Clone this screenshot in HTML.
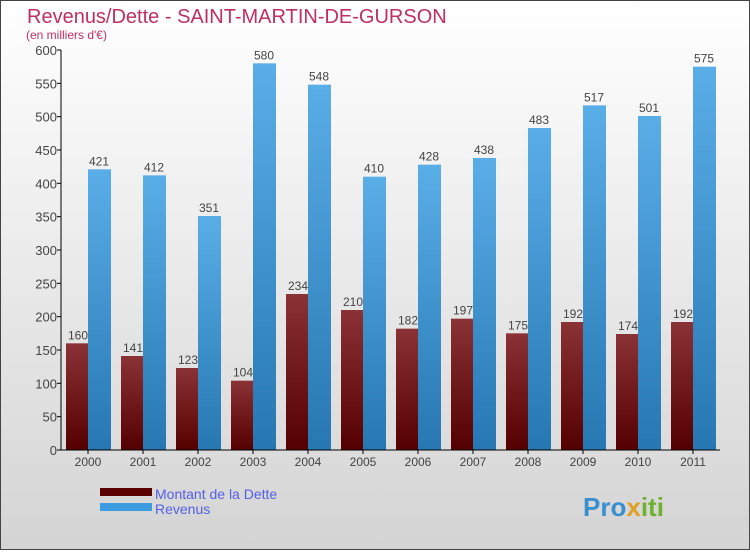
<!DOCTYPE html>
<html><head><meta charset="utf-8"><style>
body{margin:0;width:750px;height:550px;overflow:hidden;font-family:"Liberation Sans",sans-serif}
</style></head><body>
<svg width="750" height="550" xmlns="http://www.w3.org/2000/svg">
<defs>
<linearGradient id="bg" x1="0" y1="0" x2="0" y2="1"><stop offset="0" stop-color="#ffffff"/><stop offset="1" stop-color="#d4d4d4"/></linearGradient>
<linearGradient id="gd" x1="0" y1="0" x2="0" y2="1"><stop offset="0" stop-color="#8a3236"/><stop offset="1" stop-color="#550000"/></linearGradient>
<linearGradient id="gr" x1="0" y1="0" x2="0" y2="1"><stop offset="0" stop-color="#5aaee8"/><stop offset="1" stop-color="#2677b2"/></linearGradient>
</defs>
<rect x="0.5" y="0.5" width="749" height="549" fill="url(#bg)" stroke="#444"/>
<text x="27" y="23" font-size="20" fill="#c0305e">Revenus/Dette - SAINT-MARTIN-DE-GURSON</text>
<text x="26" y="39" font-size="12" fill="#c0305e">(en milliers d'€)</text>
<g id="plot"></g>
<rect x="100" y="488" width="52" height="8" fill="#5a0000"/>
<text x="155" y="499" font-size="14" fill="#5560e8">Montant de la Dette</text>
<rect x="100" y="503" width="52" height="8" fill="#3d9be0"/>
<text x="155" y="514" font-size="14" fill="#5560e8">Revenus</text>
<text x="583" y="516" font-size="26" font-weight="bold" fill="#3a8fd0">Pro<tspan fill="#e0a020">x</tspan><tspan fill="#70b030">iti</tspan></text>
</svg>
<script>
const years=["2000","2001","2002","2003","2004","2005","2006","2007","2008","2009","2010","2011"];
const dette=[160,141,123,104,234,210,182,197,175,192,174,192];
const revenus=[421,412,351,580,548,410,428,438,483,517,501,575];
const yTicks=[0,50,100,150,200,250,300,350,400,450,500,550,600];
const NS="http://www.w3.org/2000/svg";
const g=document.getElementById('plot');
const y0=450,yTop=50,vMax=600,xL=61,step=55,bw=22;
function ys(v){return y0-(v/vMax)*(y0-yTop);}
function xs(i){return xL+i*step;}
function mk(t,a){const e=document.createElementNS(NS,t);for(const k in a)e.setAttribute(k,a[k]);g.appendChild(e);return e;}
yTicks.forEach(v=>{
 let l=mk('line',{x1:xL-4,x2:xL,y1:ys(v),y2:ys(v),stroke:'#000'});
 
 
 let t=mk('text',{x:xL-4,y:ys(v)+5,'text-anchor':'end','font-size':13,fill:'#444'});
 t.textContent=v;
 
 
});
years.forEach((yr,i)=>{
 const x=xs(i)+5;
 let b=mk('rect',{x:x,y:ys(dette[i]),width:bw,height:y0-ys(dette[i]),fill:'url(#gd)'});
 
 
 let r=mk('rect',{x:x+bw,y:ys(revenus[i]),width:bw+1,height:y0-ys(revenus[i]),fill:'url(#gr)'});
 
 
 let t1=mk('text',{x:x+bw/2+1,y:ys(dette[i])-4,'text-anchor':'middle','font-size':12,fill:'#444'});
 t1.textContent=dette[i];
 
 
 let t2=mk('text',{x:x+bw*1.5,y:ys(revenus[i])-4,'text-anchor':'middle','font-size':12,fill:'#444'});
 t2.textContent=revenus[i];
 
 
 let tk=mk('line',{x1:x+bw,x2:x+bw,y1:y0,y2:y0+4,stroke:'#000'});
 
 
 let xl=mk('text',{x:x+bw,y:y0+16,'text-anchor':'middle','font-size':12,fill:'#444'});
 xl.textContent=yr;
 
 
});
let ax=mk('line',{x1:xL,x2:xL,y1:yTop,y2:y0,stroke:'#000'});


let bx=mk('line',{x1:xL,x2:xL+step*12-1,y1:y0,y2:y0,stroke:'#000'});


</script>
</body></html>
